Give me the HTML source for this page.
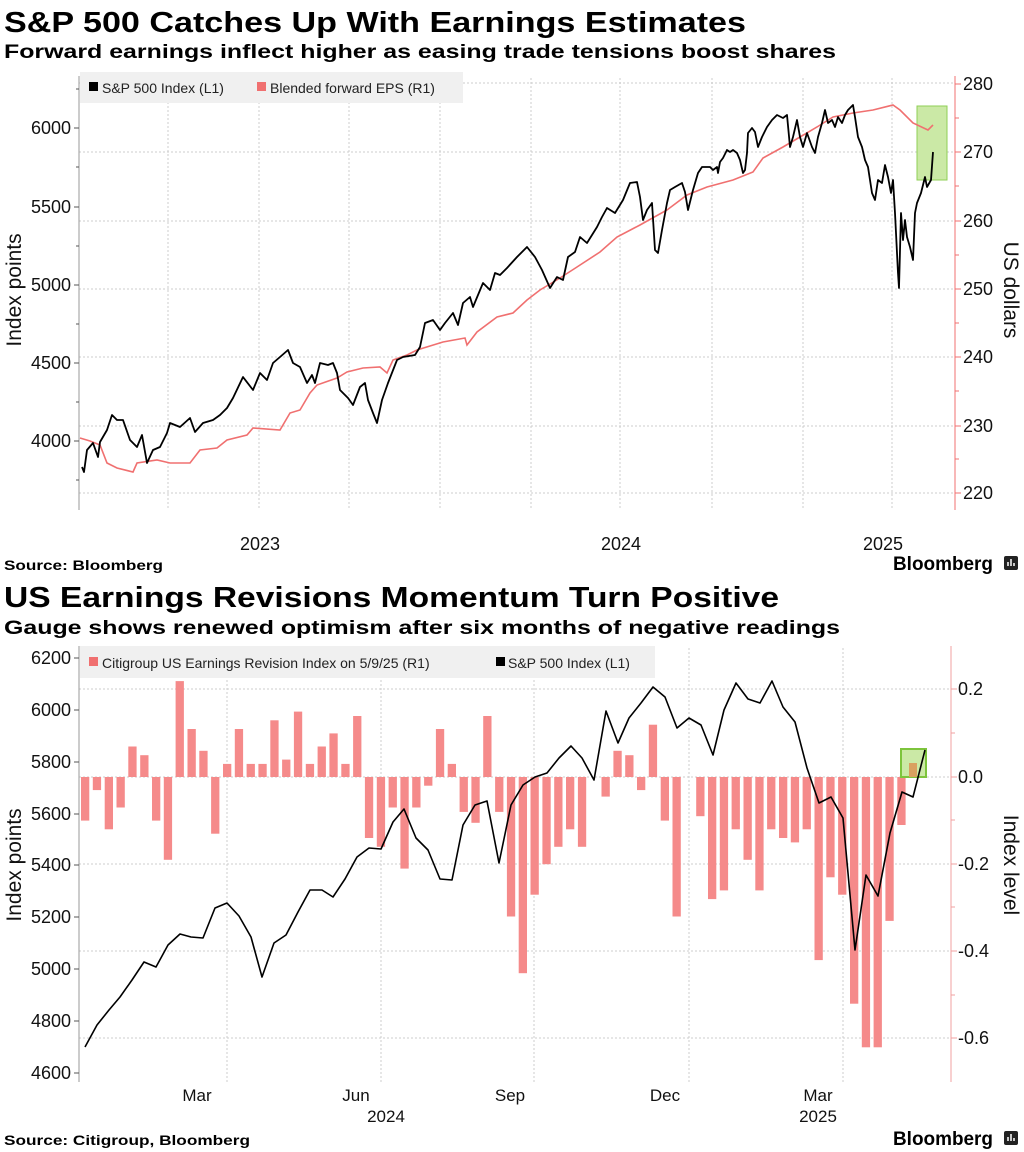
<!DOCTYPE html>
<html><head><meta charset="utf-8"><style>
html,body{margin:0;padding:0;background:#fff;}
svg{display:block;font-family:"Liberation Sans","DejaVu Sans",sans-serif;}
</style></head><body>
<svg width="1024" height="1152" viewBox="0 0 1024 1152" xmlns="http://www.w3.org/2000/svg">
<rect width="1024" height="1152" fill="#fff"/>
<!-- ===== Chart 1 ===== -->
<text x="4" y="32" font-size="29" font-weight="bold" textLength="742" lengthAdjust="spacingAndGlyphs">S&amp;P 500 Catches Up With Earnings Estimates</text>
<text x="4" y="58" font-size="19" font-weight="bold" textLength="832" lengthAdjust="spacingAndGlyphs">Forward earnings inflect higher as easing trade tensions boost shares</text>
<g stroke="#ccc" stroke-dasharray="2,2" stroke-width="1">
<line x1="79" x2="955" y1="83" y2="83"/><line x1="79" x2="955" y1="152" y2="152"/><line x1="79" x2="955" y1="221" y2="221"/><line x1="79" x2="955" y1="289" y2="289"/><line x1="79" x2="955" y1="357" y2="357"/><line x1="79" x2="955" y1="426" y2="426"/><line x1="79" x2="955" y1="493" y2="493"/>
<line x1="168" x2="168" y1="78" y2="510"/><line x1="259" x2="259" y1="78" y2="510"/><line x1="349" x2="349" y1="78" y2="510"/><line x1="440" x2="440" y1="78" y2="510"/><line x1="531" x2="531" y1="78" y2="510"/><line x1="620" x2="620" y1="78" y2="510"/><line x1="712" x2="712" y1="78" y2="510"/><line x1="803" x2="803" y1="78" y2="510"/><line x1="892" x2="892" y1="78" y2="510"/>
</g>
<rect x="80" y="72" width="383" height="31" fill="#f0f0f0"/>
<rect x="89" y="82" width="9" height="9" fill="#000"/>
<text x="102" y="93" font-size="14" fill="#222">S&amp;P 500 Index (L1)</text>
<rect x="257" y="82" width="9" height="9" fill="#f07070"/>
<text x="270" y="93" font-size="14" fill="#222">Blended forward EPS (R1)</text>
<line x1="79" y1="76" x2="79" y2="510" stroke="#999"/>
<g stroke="#555"><line x1="74" x2="79" y1="128" y2="128"/><line x1="74" x2="79" y1="207" y2="207"/><line x1="74" x2="79" y1="285" y2="285"/><line x1="74" x2="79" y1="363" y2="363"/><line x1="74" x2="79" y1="441" y2="441"/>
<line x1="76" x2="79" y1="89" y2="89"/><line x1="76" x2="79" y1="167" y2="167"/><line x1="76" x2="79" y1="246" y2="246"/><line x1="76" x2="79" y1="324" y2="324"/><line x1="76" x2="79" y1="402" y2="402"/><line x1="76" x2="79" y1="480" y2="480"/></g>
<g font-size="18" text-anchor="end" fill="#111"><text x="71" y="134">6000</text><text x="71" y="213">5500</text><text x="71" y="291">5000</text><text x="71" y="369">4500</text><text x="71" y="447">4000</text></g>
<text transform="translate(21,290) rotate(-90)" font-size="21" text-anchor="middle" fill="#111">Index points</text>
<line x1="955" y1="76" x2="955" y2="510" stroke="#f07070"/>
<g stroke="#f07070"><line x1="955" x2="961" y1="84" y2="84"/><line x1="955" x2="961" y1="152" y2="152"/><line x1="955" x2="961" y1="221" y2="221"/><line x1="955" x2="961" y1="289" y2="289"/><line x1="955" x2="961" y1="357" y2="357"/><line x1="955" x2="961" y1="426" y2="426"/><line x1="955" x2="961" y1="493" y2="493"/>
<line x1="955" x2="959" y1="118" y2="118"/><line x1="955" x2="959" y1="186" y2="186"/><line x1="955" x2="959" y1="255" y2="255"/><line x1="955" x2="959" y1="323" y2="323"/><line x1="955" x2="959" y1="391" y2="391"/><line x1="955" x2="959" y1="459" y2="459"/></g>
<g font-size="18" fill="#111"><text x="963" y="90">280</text><text x="963" y="158">270</text><text x="963" y="227">260</text><text x="963" y="295">250</text><text x="963" y="363">240</text><text x="963" y="432">230</text><text x="963" y="499">220</text></g>
<text transform="translate(1004,290) rotate(90)" font-size="21" text-anchor="middle" fill="#111">US dollars</text>
<g font-size="18" text-anchor="middle" fill="#111"><text x="260" y="550">2023</text><text x="621" y="550">2024</text><text x="883" y="550">2025</text></g>
<rect x="917" y="106" width="30" height="74" fill="#cbe9a6" stroke="#8fcf55" stroke-width="1"/>
<polyline fill="none" stroke="#f07070" stroke-width="1.6" points="80,438 90,441 100,445 107,463 117,468 133,472 137,463 157,460 170,463 190,463 200,450 217,448 227,440 247,435 253,428 280,430 290,413 300,410 310,393 317,385 337,378 347,372 363,368 380,367 387,373 393,360 407,355 417,350 443,342 465,338 467,345 477,332 497,317 513,313 527,300 540,290 560,278 577,267 600,252 617,237 640,225 667,210 687,195 707,187 733,180 753,172 763,158 783,147 800,137 817,127 833,117 853,113 873,110 893,105 900,110 913,123 928,130 933,125"/>
<polyline fill="none" stroke="#000" stroke-width="1.8" stroke-linejoin="round" points="82,467 84,472 87,450 93,443 98,457 100,442 107,430 112,415 117,420 123,420 130,440 137,447 142,435 147,463 153,450 160,447 167,433 170,423 180,427 190,418 195,432 203,423 213,420 220,415 227,408 233,398 243,377 253,390 260,373 267,380 273,363 280,357 288,350 293,363 300,367 307,383 312,375 315,383 320,363 328,365 333,363 337,373 340,390 348,398 353,405 360,387 365,383 368,400 373,413 377,423 382,400 388,383 397,360 403,357 415,355 420,347 425,323 433,320 440,330 445,323 453,313 458,325 463,303 470,297 473,307 483,283 490,290 495,273 500,275 507,268 517,257 527,247 535,257 542,270 550,288 557,277 563,280 568,257 575,252 580,237 587,243 597,227 602,217 607,208 615,213 623,200 630,183 637,182 640,197 643,220 647,210 652,203 655,250 658,253 662,230 667,203 670,190 675,187 682,183 685,192 688,210 693,190 698,173 702,167 710,167 713,170 717,167 718,173 720,162 723,158 727,150 730,152 733,150 737,153 740,160 743,173 745,170 747,153 748,133 752,128 755,132 758,147 762,137 767,127 772,120 777,115 783,118 787,115 790,147 793,137 797,120 800,137 803,147 807,133 812,147 815,153 818,137 822,123 825,110 828,123 832,120 835,127 838,117 842,123 845,115 848,110 853,105 855,117 858,137 862,147 865,160 868,167 872,193 875,200 878,180 882,183 885,165 888,177 891,193 893,180 895,213 898,273 899,288 901,213 903,240 905,220 907,237 910,247 913,260 915,213 917,203 921,193 925,177 927,187 931,180 933,152"/>
<text x="4" y="570" font-size="14" font-weight="bold" textLength="159" lengthAdjust="spacingAndGlyphs">Source: Bloomberg</text>
<text x="893" y="570" font-size="19" font-weight="bold" textLength="100" lengthAdjust="spacingAndGlyphs">Bloomberg</text>
<rect x="1004" y="556" width="14" height="14" rx="2" fill="#222"/>
<g stroke="#fff" stroke-width="1.5"><line x1="1008" y1="566" x2="1008" y2="562"/><line x1="1011" y1="566" x2="1011" y2="559"/><line x1="1014" y1="566" x2="1014" y2="563"/></g>
<!-- ===== Chart 2 ===== -->
<text x="4" y="607" font-size="29" font-weight="bold" textLength="775" lengthAdjust="spacingAndGlyphs">US Earnings Revisions Momentum Turn Positive</text>
<text x="4" y="634" font-size="19" font-weight="bold" textLength="836" lengthAdjust="spacingAndGlyphs">Gauge shows renewed optimism after six months of negative readings</text>
<g stroke="#ccc" stroke-dasharray="2,2" stroke-width="1">
<line x1="79" x2="951" y1="689" y2="689"/><line x1="79" x2="951" y1="777" y2="777"/><line x1="79" x2="951" y1="864" y2="864"/><line x1="79" x2="951" y1="951" y2="951"/><line x1="79" x2="951" y1="1038" y2="1038"/>
<line x1="227" x2="227" y1="648" y2="1082"/><line x1="381" x2="381" y1="648" y2="1082"/><line x1="534" x2="534" y1="648" y2="1082"/><line x1="689" x2="689" y1="648" y2="1082"/><line x1="843" x2="843" y1="648" y2="1082"/>
</g>
<rect x="80" y="646" width="575" height="32" fill="#f0f0f0"/>
<rect x="89" y="657" width="9" height="9" fill="#f07070"/>
<text x="102" y="668" font-size="14" fill="#222">Citigroup US Earnings Revision Index on 5/9/25 (R1)</text>
<rect x="496" y="657" width="9" height="9" fill="#000"/>
<text x="508" y="668" font-size="14" fill="#222">S&amp;P 500 Index (L1)</text>
<g fill="#f58a8a" id="bars"></g>
<line x1="79" y1="646" x2="79" y2="1082" stroke="#999"/>
<g font-size="18" text-anchor="end" fill="#111"><text x="71" y="664">6200</text><text x="71" y="716">6000</text><text x="71" y="768">5800</text><text x="71" y="820">5600</text><text x="71" y="871">5400</text><text x="71" y="923">5200</text><text x="71" y="975">5000</text><text x="71" y="1027">4800</text><text x="71" y="1079">4600</text></g>
<g stroke="#555"><line x1="74" x2="79" y1="658" y2="658"/><line x1="74" x2="79" y1="710" y2="710"/><line x1="74" x2="79" y1="762" y2="762"/><line x1="74" x2="79" y1="814" y2="814"/><line x1="74" x2="79" y1="865" y2="865"/><line x1="74" x2="79" y1="917" y2="917"/><line x1="74" x2="79" y1="969" y2="969"/><line x1="74" x2="79" y1="1021" y2="1021"/><line x1="74" x2="79" y1="1073" y2="1073"/></g>
<text transform="translate(21,865) rotate(-90)" font-size="21" text-anchor="middle" fill="#111">Index points</text>
<line x1="951" y1="646" x2="951" y2="1082" stroke="#f0a0a0"/>
<g stroke="#f0a0a0"><line x1="951" x2="957" y1="689" y2="689"/><line x1="951" x2="957" y1="777" y2="777"/><line x1="951" x2="957" y1="864" y2="864"/><line x1="951" x2="957" y1="951" y2="951"/><line x1="951" x2="957" y1="1038" y2="1038"/><line x1="951" x2="955" y1="733" y2="733"/><line x1="951" x2="955" y1="820" y2="820"/><line x1="951" x2="955" y1="907" y2="907"/><line x1="951" x2="955" y1="995" y2="995"/></g>
<g font-size="18" fill="#111"><text x="958" y="695">0.2</text><text x="958" y="783">0.0</text><text x="958" y="870">-0.2</text><text x="958" y="957">-0.4</text><text x="958" y="1044">-0.6</text></g>
<text transform="translate(1004,865) rotate(90)" font-size="21" text-anchor="middle" fill="#111">Index level</text>
<g font-size="17" text-anchor="middle" fill="#111"><text x="197" y="1101">Mar</text><text x="356" y="1101">Jun</text><text x="510" y="1101">Sep</text><text x="665" y="1101">Dec</text><text x="818" y="1101">Mar</text><text x="386" y="1122">2024</text><text x="818" y="1122">2025</text></g>
<rect x="901" y="749" width="25" height="28" fill="#cbe9a6" stroke="#7dc43c" stroke-width="2"/>
<rect x="909" y="763" width="8" height="14" fill="#d9a060"/>
<polyline fill="none" stroke="#000" stroke-width="1.6" stroke-linejoin="round" points="85,1047 97,1025 109,1010 120,997 132,980 144,962 156,967 168,945 180,934 191,937 203,938 215,908 227,903 239,916 251,937 262,977 274,943 286,935 298,912 310,890 322,890 333,897 345,879 357,857 369,848 381,849 393,822 404,809 416,838 428,850 440,879 452,880 463,825 475,805 487,801 499,863 511,805 523,785 535,777 547,773 559,758 571,746 582,758 594,780 606,711 618,743 629,718 641,703 653,687 665,697 677,728 689,718 701,725 713,755 724,710 736,683 748,699 760,703 772,681 783,707 795,722 807,768 819,803 831,797 843,818 855,950 866,875 878,896 890,833 902,792 913,797 925,750"/>
<text x="4" y="1145" font-size="14" font-weight="bold" textLength="246" lengthAdjust="spacingAndGlyphs">Source: Citigroup, Bloomberg</text>
<text x="893" y="1145" font-size="19" font-weight="bold" textLength="100" lengthAdjust="spacingAndGlyphs">Bloomberg</text>
<rect x="1004" y="1131" width="14" height="14" rx="2" fill="#222"/>
<g stroke="#fff" stroke-width="1.5"><line x1="1008" y1="1141" x2="1008" y2="1137"/><line x1="1011" y1="1141" x2="1011" y2="1134"/><line x1="1014" y1="1141" x2="1014" y2="1138"/></g>
</svg>
<script>
var v=[-0.10,-0.03,-0.12,-0.07,0.07,0.05,-0.10,-0.19,0.22,0.11,0.06,-0.13,0.03,0.11,0.03,0.03,0.13,0.04,0.15,0.03,0.07,0.10,0.03,0.14,-0.14,-0.16,-0.07,-0.21,-0.07,-0.02,0.11,0.03,-0.08,-0.105,0.14,-0.08,-0.32,-0.45,-0.27,-0.20,-0.16,-0.12,-0.16,0,-0.045,0.06,0.05,-0.03,0.12,-0.10,-0.32,0,-0.09,-0.28,-0.26,-0.12,-0.19,-0.26,-0.12,-0.14,-0.15,-0.12,-0.42,-0.23,-0.27,-0.52,-0.62,-0.62,-0.33,-0.11];
var g=document.getElementById('bars'),ns='http://www.w3.org/2000/svg';
for(var i=0;i<v.length;i++){if(!v[i])continue;var x=85+i*11.83-4,h=Math.abs(v[i])*436,y=v[i]>0?777-h:777;var r=document.createElementNS(ns,'rect');r.setAttribute('x',x.toFixed(1));r.setAttribute('y',y.toFixed(1));r.setAttribute('width','8.3');r.setAttribute('height',h.toFixed(1));g.appendChild(r);}
</script>
</body></html>
